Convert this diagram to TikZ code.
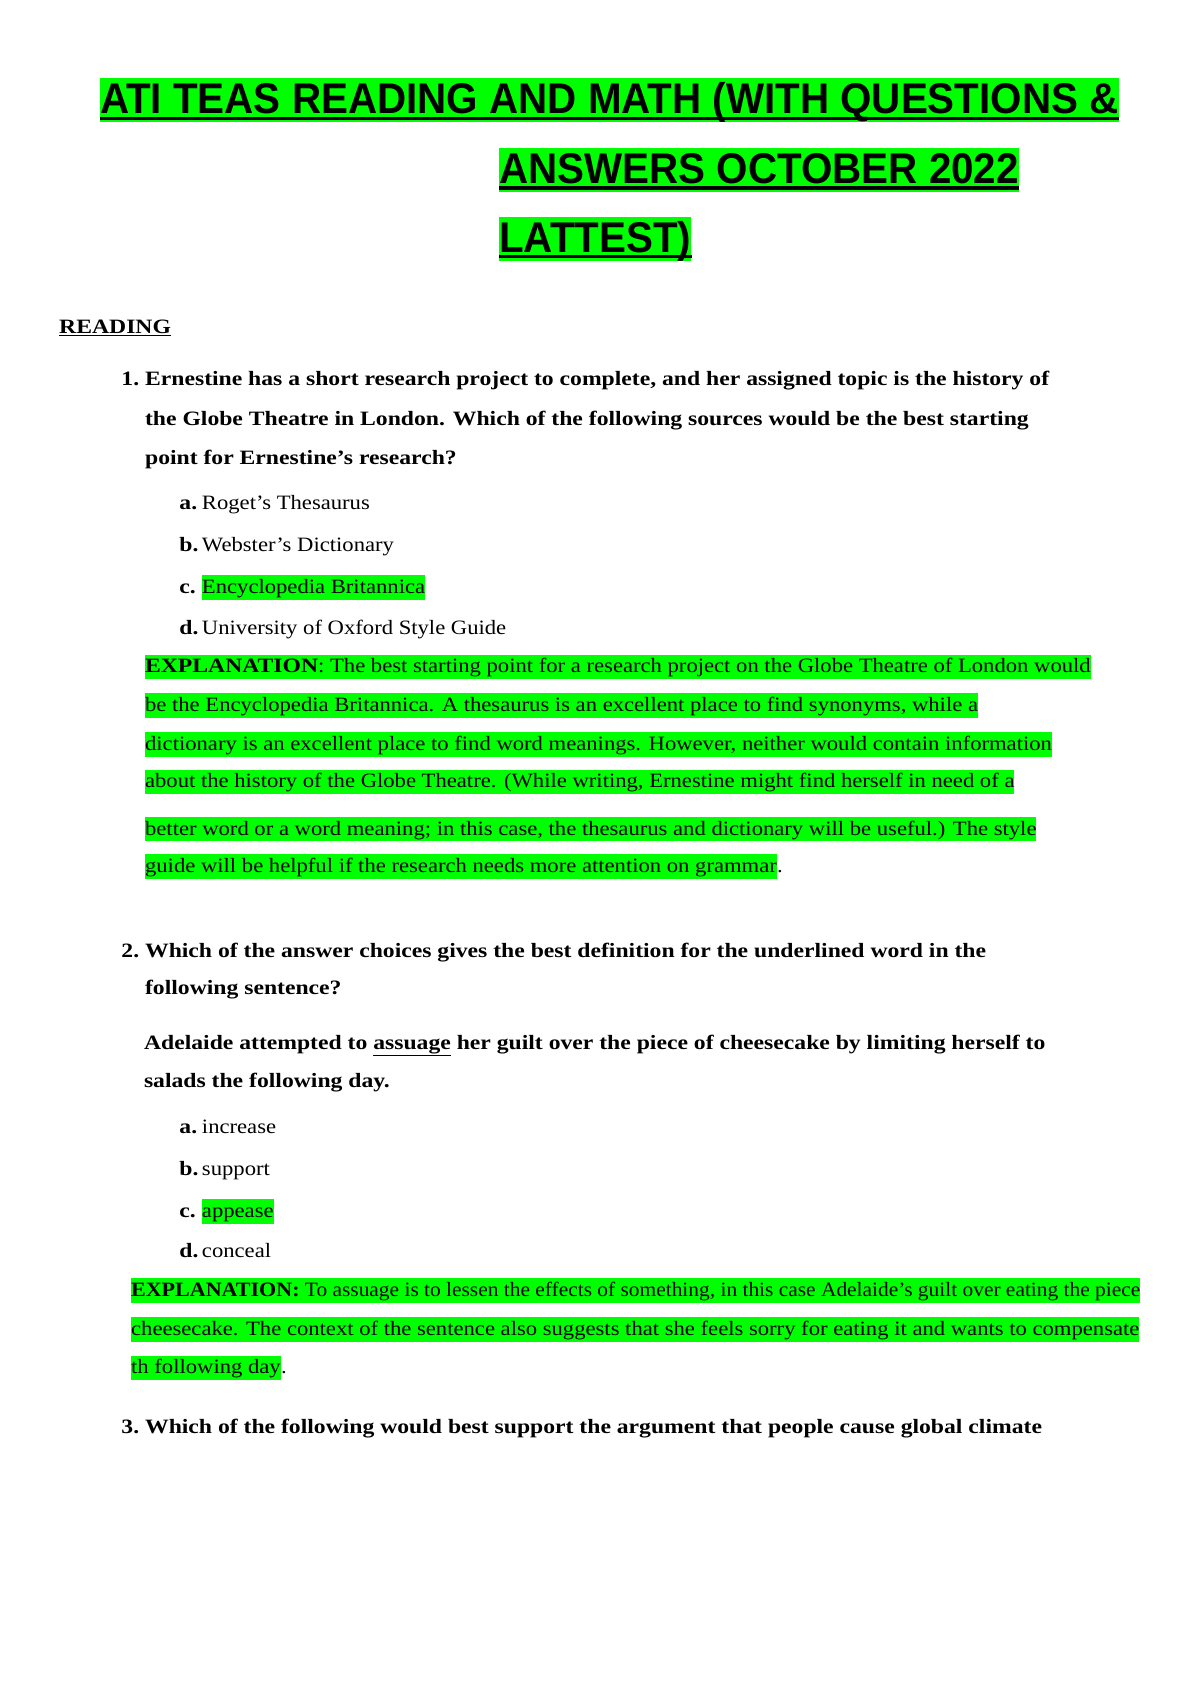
\documentclass[tikz,border=0pt]{standalone}
\usepackage{fontspec}
\setmainfont{Liberation Serif}[FakeStretch=1.11,BoldFeatures={FakeStretch=1.16}]
\newfontfamily\titlefont[FakeStretch=0.94]{Liberation Sans}
\newfontfamily\narrowserif[FakeStretch=1.05,BoldFeatures={FakeStretch=1.08}]{Liberation Serif}
\definecolor{hlg}{RGB}{0,255,0}
\tikzset{
 ln/.style={anchor=base west,inner sep=0pt,font=\fontsize{19}{22}\selectfont},
 bl/.style={ln,font=\fontsize{19}{22}\selectfont\bfseries},
 hl/.style={fill=hlg,text height=17pt,text depth=6pt},
 tt/.style={anchor=base west,inner sep=0pt,fill=hlg,text height=33pt,text depth=8pt,font=\fontsize{40}{44}\selectfont\titlefont\bfseries},
}
\begin{document}
\begin{tikzpicture}[x=1pt,y=-1pt]
\useasboundingbox[fill=white] (0,0) rectangle (1110,1569);
% title
\node[tt] (t1) at (93,106) {ATI TEAS READING AND MATH (WITH QUESTIONS \&};
\node[tt] (t2) at (465,171) {ANSWERS OCTOBER 2022};
\node[tt] (t3) at (465,235) {LATTEST)};
\foreach \t in {t1,t2,t3}{\draw[line width=3pt] ([yshift=4pt]\t.south west) -- ([yshift=4pt]\t.south east);}
\node[bl] (rd) at (55,311) {\underline{READING}};
% Q1
\node[bl] (q1a) at (113,359) {1.};
\node[bl] (q1b) at (135,359) {Ernestine has a short research project to complete, and her assigned topic is the history of};
\node[bl] (q1c) at (135,396) {the Globe Theatre in London. Which of the following sources would be the best starting};
\node[bl] (q1d) at (135,433) {point for Ernestine’s research?};
\node[bl] (o1a) at (167,475) {a.};\node[ln] at (188,475) {Roget’s Thesaurus};
\node[bl] (o1b) at (167,514) {b.};\node[ln] at (188,514) {Webster’s Dictionary};
\node[bl] (o1c) at (167,553) {c.};\node[ln,hl] at (188,553) {Encyclopedia Britannica};
\node[bl] (o1d) at (167,591) {d.};\node[ln] at (188,591) {University of Oxford Style Guide};
\node[ln,hl] (e1) at (135,627) {\textbf{EXPLANATION}: The best starting point for a research project on the Globe Theatre of London would};
\node[ln,hl] (e2) at (135,663) {be the Encyclopedia Britannica. A thesaurus is an excellent place to find synonyms, while a};
\node[ln,hl] (e3) at (135,699) {dictionary is an excellent place to find word meanings. However, neither would contain information};
\node[ln,hl] (e4) at (135,734) {about the history of the Globe Theatre. (While writing, Ernestine might find herself in need of a};
\node[ln,hl] (e5) at (135,778) {better word or a word meaning; in this case, the thesaurus and dictionary will be useful.) The style};
\node[ln,hl] (e6) at (135,813) {guide will be helpful if the research needs more attention on grammar};
\node[ln,anchor=base west] at (e6.base east) {.};
% Q2
\node[bl] (q2a) at (113,892) {2.};
\node[bl] (q2b) at (135,892) {Which of the answer choices gives the best definition for the underlined word in the};
\node[bl] (q2c) at (135,927) {following sentence?};
\node[bl] (s1) at (134,978) {Adelaide attempted to \underline{assuage} her guilt over the piece of cheesecake by limiting herself to};
\node[bl] (s2) at (134,1013) {salads the following day.};
\node[bl] at (167,1056) {a.};\node[ln] at (188,1056) {increase};
\node[bl] at (167,1095) {b.};\node[ln] at (188,1095) {support};
\node[bl] at (167,1134) {c.};\node[ln,hl] at (188,1134) {appease};
\node[bl] at (167,1172) {d.};\node[ln] at (188,1172) {conceal};
\node[ln,hl,font=\fontsize{19}{22}\selectfont\narrowserif] (f1) at (122,1208) {\textbf{EXPLANATION:} To assuage is to lessen the effects of something, in this case Adelaide’s guilt over eating the piece};
\node[ln,hl] (f2) at (122,1244) {cheesecake. The context of the sentence also suggests that she feels sorry for eating it and wants to compensate};
\node[ln,hl] (f3) at (122,1280) {th following day};
\node[ln,anchor=base west] at (f3.base east) {.};
\node[bl] at (113,1336) {3.};
\node[bl] at (135,1336) {Which of the following would best support the argument that people cause global climate};
\end{tikzpicture}
\end{document}
